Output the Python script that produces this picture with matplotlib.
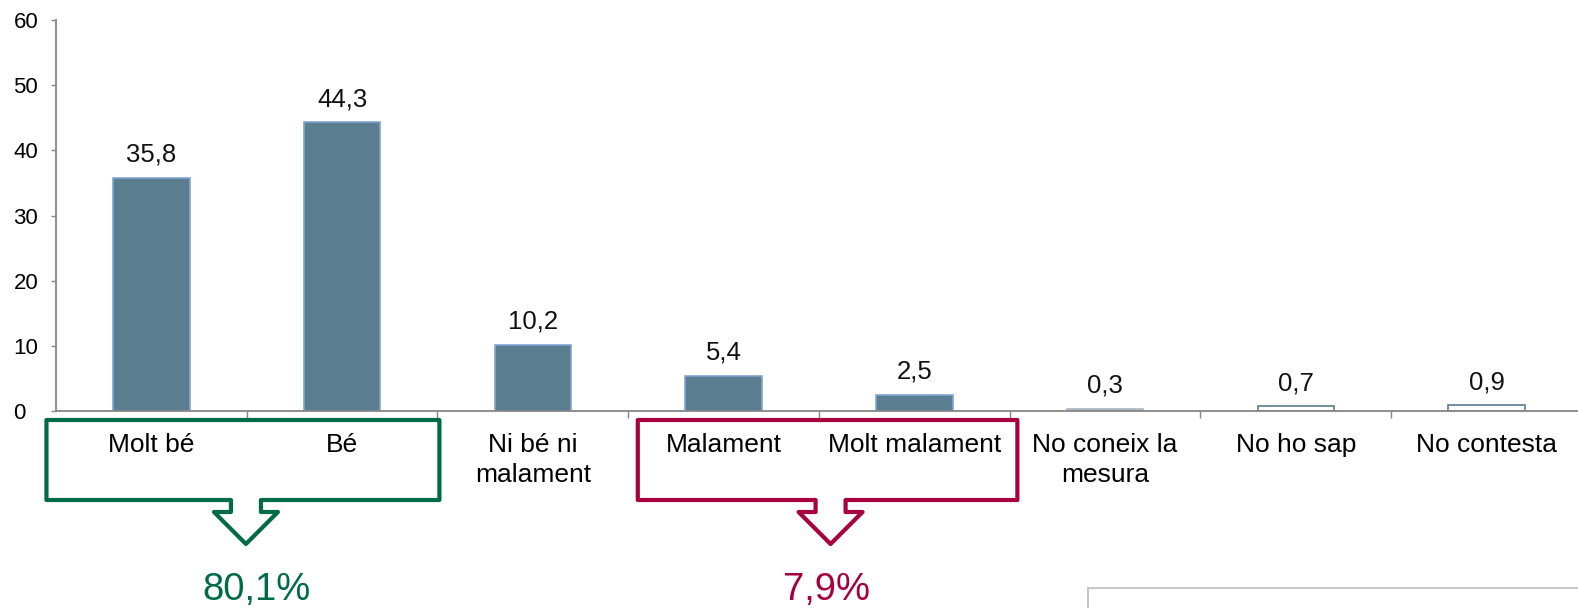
import matplotlib
matplotlib.use("Agg")
import matplotlib.pyplot as plt
from matplotlib.path import Path
from matplotlib.patches import PathPatch, Rectangle
from matplotlib.transforms import IdentityTransform

plt.rcParams['font.family'] = ['Liberation Sans', 'DejaVu Sans']

categories = ["Molt bé", "Bé", "Ni bé ni\nmalament", "Malament", "Molt malament",
              "No coneix la\nmesura", "No ho sap", "No contesta"]
values = [35.8, 44.3, 10.2, 5.4, 2.5, 0.3, 0.7, 0.9]
value_labels = ["35,8", "44,3", "10,2", "5,4", "2,5", "0,3", "0,7", "0,9"]
yticks = [0, 10, 20, 30, 40, 50, 60]

# grouped totals shown under the callout boxes
groups = [(-0.55, 1.51), (2.55, 4.54)]
group_labels = ["80,1%", "7,9%"]
group_colors = ["#006B47", "#A8003F"]
label_shift = [11, -4]

W, H = 1578, 608
fig = plt.figure(figsize=(W / 100, H / 100), dpi=100)
ax = fig.add_axes([56 / W, 197 / H, (1582 - 56) / W, 391 / H])

x = list(range(len(categories)))
bar_face = ["#5B7D90"] * 5 + ["#A9B8C2", "white", "white"]
bar_edge = ["#7FA5D6"] * 5 + ["#A9B8C2", "#5B7D90", "#5B7D90"]
ax.bar(x, values, width=0.4, color=bar_face, edgecolor=bar_edge, linewidth=1.2)

for xi, v, lab in zip(x, values, value_labels):
    ax.annotate(lab, (xi, v), xytext=(0, 8), textcoords='offset points',
                ha='center', va='bottom', fontsize=18.5, color='#111111')

ax.set_xlim(-0.5, len(categories) - 0.5)
ax.set_ylim(0, 60)
ax.set_yticks(yticks)
ax.set_yticklabels([str(t) for t in yticks], fontsize=16)
for lab in ax.get_yticklabels():
    lab.set_ha('left')
ax.tick_params(axis='y', length=3.6, width=1, color='#868686', pad=27)

ax.set_xticks(x)
ax.set_xticklabels(categories, fontsize=19, linespacing=1.3, va='top')
ax.tick_params(axis='x', which='major', length=0, pad=16)
ax.set_xticks([i - 0.5 for i in range(1, len(categories) + 1)], minor=True)
ax.tick_params(axis='x', which='minor', length=5, width=1, color='#868686')

for s in ['top', 'right']:
    ax.spines[s].set_visible(False)
for s in ['left', 'bottom']:
    ax.spines[s].set_color('#868686')
    ax.spines[s].set_linewidth(1.3)

fig.canvas.draw()


def px(xd):
    return ax.transData.transform((xd, 0))[0]


top, bot, stem_bot, tip_y = 420, 500, 512, 544
stem_hw, head_hw = 15, 32
for (x0, x1), lab, col, sh in zip(groups, group_labels, group_colors, label_shift):
    l, r = px(x0), px(x1)
    c = (l + r) / 2 + 3
    pts = [(l, top), (r, top), (r, bot), (c + stem_hw, bot), (c + stem_hw, stem_bot),
           (c + head_hw, stem_bot), (c, tip_y), (c - head_hw, stem_bot),
           (c - stem_hw, stem_bot), (c - stem_hw, bot), (l, bot), (l, top)]
    verts = [(a, H - b) for a, b in pts]
    codes = [Path.MOVETO] + [Path.LINETO] * (len(verts) - 2) + [Path.CLOSEPOLY]
    patch = PathPatch(Path(verts, codes), facecolor='none', edgecolor=col,
                      linewidth=3, joinstyle='round', transform=IdentityTransform(),
                      clip_on=False)
    fig.add_artist(patch)
    fig.text((c + sh) / W, (H - 590) / H, lab, ha='center', va='center',
             fontsize=27.5, color=col)

fig.add_artist(Rectangle((1088 / W, -0.1), 0.5, (H - 588) / H + 0.1,
                         transform=fig.transFigure, facecolor='none',
                         edgecolor='#C8C8C8', linewidth=1.5, clip_on=False))

fig.savefig("out.png", dpi=100)
